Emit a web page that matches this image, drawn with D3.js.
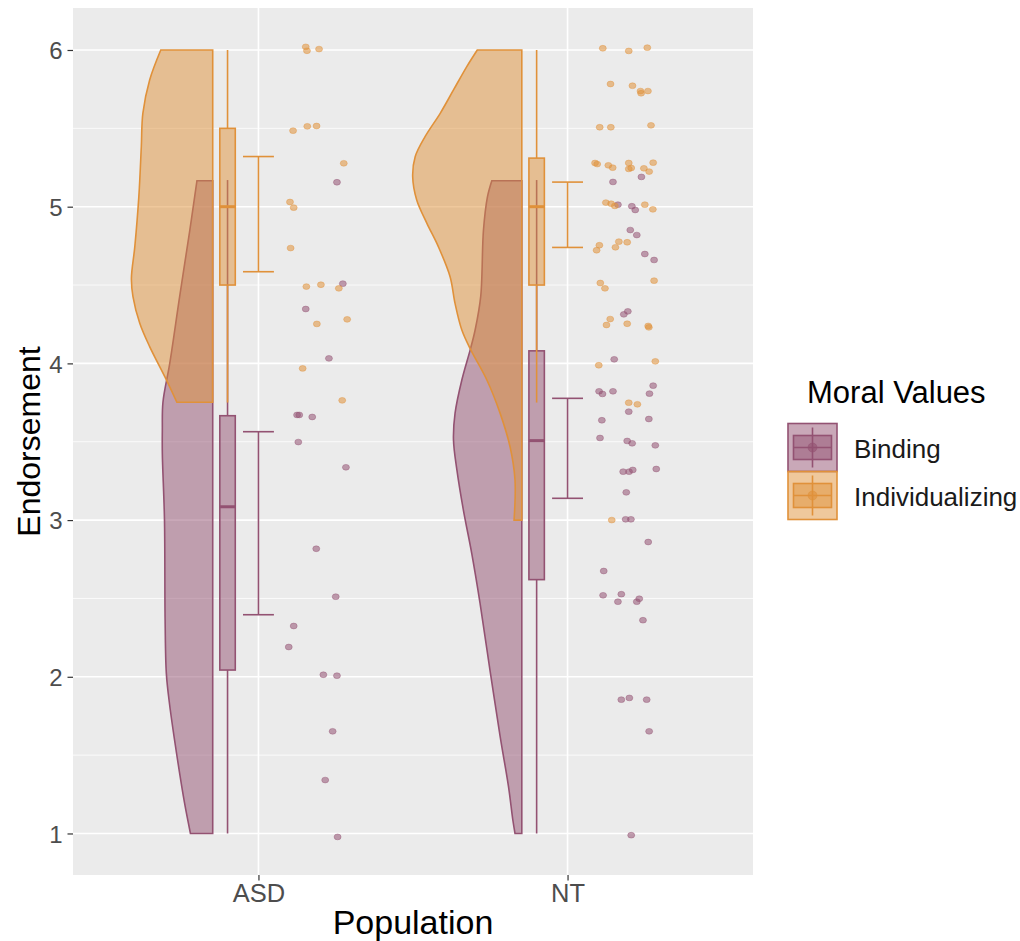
<!DOCTYPE html>
<head>
    <meta charset="utf-8">
    <title>Raincloud - Moral Values</title>
    <style>
        body { margin: 0; background: #fff; }
        text { font-family: "Liberation Sans", Arial, sans-serif; }
    </style>
</head>
<body>

<svg width="1020" height="941"></svg>

<script src="https://d3js.org/d3.v7.min.js"></script>

<script>

    // ---- data ----
    const populations = ["ASD", "NT"];
    const moralValues = ["Binding", "Individualizing"];
    const yTicks = [1, 2, 3, 4, 5, 6];

    // boxplot stats per population: [lower whisker, q1, median, q3, upper whisker]
    const bindingBox = [[1.0, 2.043, 3.085, 3.666, 5.17], [1.0, 2.62, 3.507, 4.08, 5.17]];
    const individualizingBox = [[3.75, 4.5, 5.0, 5.5, 6.0], [3.75, 4.5, 5.0, 5.31, 6.0]];

    // error bars per population: [low, high]
    const bindingErr = [[2.396, 3.564], [3.139, 3.777]];
    const individualizingErr = [[4.585, 5.32], [4.74, 5.157]];

    // half violin outlines: [endorsement, half width]
    const asdBindingDensity = [[5.166, 0.051], [4.851, 0.074], [4.426, 0.107], [4.0, 0.139], [3.752, 0.161],
        [3.575, 0.163], [3.426, 0.163], [3.0, 0.156], [2.362, 0.154], [2.022, 0.150], [1.831, 0.140],
        [1.512, 0.117], [1.193, 0.091], [1.0, 0.072]];
    const asdIndividualizingDensity = [[6.0, 0.168], [5.809, 0.204], [5.596, 0.226], [5.383, 0.231], [5.064, 0.239],
        [4.745, 0.252], [4.543, 0.263], [4.426, 0.258], [4.256, 0.236], [4.107, 0.204], [3.915, 0.155], [3.752, 0.116]];
    const ntBindingDensity = [[5.166, 0.097], [5.064, 0.111], [4.851, 0.124], [4.426, 0.133], [4.213, 0.151],
        [4.086, 0.167], [3.894, 0.194], [3.681, 0.216], [3.511, 0.221], [3.32, 0.210], [3.064, 0.189],
        [2.788, 0.162], [2.469, 0.135], [2.043, 0.103], [1.618, 0.070], [1.299, 0.043], [1.086, 0.029], [1.0, 0.022]];
    const ntIndividualizingDensity = [[6.0, 0.144], [5.894, 0.178], [5.745, 0.221], [5.596, 0.264], [5.447, 0.313],
        [5.319, 0.345], [5.191, 0.353], [5.043, 0.340], [4.894, 0.307], [4.745, 0.270], [4.553, 0.232],
        [4.383, 0.216], [4.213, 0.194], [4.086, 0.165], [3.894, 0.113], [3.681, 0.070], [3.468, 0.038],
        [3.256, 0.022], [3.0, 0.025]];

    // raw points: [endorsement, horizontal jitter from the population]
    const asdBindingPoints = [[5.156, 0.254], [4.509, 0.273], [4.347, 0.153], [4.032, 0.228], [3.671, 0.125],
        [3.671, 0.132], [3.658, 0.174], [3.498, 0.129], [3.337, 0.283], [2.817, 0.187], [2.511, 0.250],
        [2.324, 0.114], [2.19, 0.098], [2.013, 0.210], [2.007, 0.254], [1.652, 0.240], [1.341, 0.216], [0.978, 0.256]];
    const asdIndividualizingPoints = [[6.02, 0.153], [5.995, 0.157], [6.006, 0.196], [5.485, 0.112], [5.513, 0.158],
        [5.515, 0.188], [5.277, 0.276], [5.03, 0.102], [4.994, 0.114], [4.736, 0.104], [4.49, 0.155], [4.502, 0.202],
        [4.479, 0.260], [4.252, 0.189], [4.281, 0.287], [3.968, 0.143], [3.764, 0.271]];
    const ntBindingPoints = [[5.158, 0.147], [5.19, 0.239], [5.013, 0.163], [5.003, 0.208], [4.979, 0.219],
        [4.851, 0.203], [4.819, 0.224], [4.698, 0.250], [4.66, 0.280], [4.313, 0.182], [4.332, 0.195],
        [4.026, 0.151], [3.822, 0.102], [3.805, 0.113], [3.822, 0.147], [3.858, 0.277], [3.807, 0.265],
        [3.692, 0.198], [3.637, 0.111], [3.645, 0.263], [3.524, 0.105], [3.505, 0.193], [3.49, 0.209],
        [3.477, 0.284], [3.309, 0.180], [3.309, 0.199], [3.32, 0.211], [3.326, 0.287], [3.177, 0.190],
        [3.005, 0.188], [3.005, 0.205], [2.86, 0.261], [2.675, 0.117], [2.52, 0.115], [2.527, 0.174],
        [2.479, 0.163], [2.479, 0.224], [2.498, 0.232], [2.361, 0.244], [1.854, 0.174], [1.865, 0.200],
        [1.854, 0.256], [1.652, 0.264], [0.989, 0.206]];
    const ntIndividualizingPoints = [[6.011, 0.114], [5.994, 0.198], [6.015, 0.258], [5.783, 0.139], [5.772, 0.210],
        [5.738, 0.236], [5.724, 0.238], [5.738, 0.260], [5.507, 0.104], [5.507, 0.140], [5.519, 0.270],
        [5.279, 0.089], [5.272, 0.096], [5.264, 0.132], [5.249, 0.146], [5.279, 0.198], [5.241, 0.198],
        [5.247, 0.206], [5.245, 0.247], [5.281, 0.277], [5.224, 0.264], [5.026, 0.124], [5.019, 0.141],
        [5.005, 0.153], [5.013, 0.250], [4.983, 0.276], [4.754, 0.103], [4.722, 0.094], [4.777, 0.166],
        [4.741, 0.155], [4.773, 0.193], [4.528, 0.280], [4.513, 0.106], [4.479, 0.121], [4.283, 0.138],
        [4.245, 0.126], [4.253, 0.193], [4.239, 0.261], [4.23, 0.263], [3.988, 0.101], [4.013, 0.284],
        [3.749, 0.198], [3.739, 0.226], [3.0, 0.143]];

    const colors = { Binding: "#935272", Individualizing: "#e0913a" };

    // ---- layout ----
    const svg = d3.select("svg");
    const panel = { left: 73, right: 753, top: 8, bottom: 875 };

    const x = d3.scaleLinear().domain([0.4, 2.6]).range([panel.left, panel.right]);
    const y = d3.scaleLinear().domain([0.735, 6.268]).range([panel.bottom, panel.top]);
    const pos = function(pop) { return populations.indexOf(pop) + 1; };

    const violinEdge = -0.148, boxShift = -0.1, boxHalf = 0.025, errHalf = 0.05;
    const lw = 1.6;

    // panel background + grid
    svg.append("rect")
        .attr("x", panel.left).attr("y", panel.top)
        .attr("width", panel.right - panel.left).attr("height", panel.bottom - panel.top)
        .attr("fill", "#ebebeb");

    const minor = d3.range(1.5, 6, 1);
    svg.append("g").selectAll("line").data(minor).enter().append("line")
        .attr("x1", panel.left).attr("x2", panel.right)
        .attr("y1", d => y(d)).attr("y2", d => y(d))
        .attr("stroke", "#fff").attr("stroke-width", 0.8);
    svg.append("g").selectAll("line").data(yTicks).enter().append("line")
        .attr("x1", panel.left).attr("x2", panel.right)
        .attr("y1", d => y(d)).attr("y2", d => y(d))
        .attr("stroke", "#fff").attr("stroke-width", 1.6);
    svg.append("g").selectAll("line").data(populations).enter().append("line")
        .attr("x1", d => x(pos(d))).attr("x2", d => x(pos(d)))
        .attr("y1", panel.top).attr("y2", panel.bottom)
        .attr("stroke", "#fff").attr("stroke-width", 1.6);

    const groups = [
        { pop: "ASD", mv: "Binding", dens: asdBindingDensity, pts: asdBindingPoints, box: bindingBox[0], err: bindingErr[0] },
        { pop: "ASD", mv: "Individualizing", dens: asdIndividualizingDensity, pts: asdIndividualizingPoints, box: individualizingBox[0], err: individualizingErr[0] },
        { pop: "NT", mv: "Binding", dens: ntBindingDensity, pts: ntBindingPoints, box: bindingBox[1], err: bindingErr[1] },
        { pop: "NT", mv: "Individualizing", dens: ntIndividualizingDensity, pts: ntIndividualizingPoints, box: individualizingBox[1], err: individualizingErr[1] }
    ];

    // ---- half violins ----
    const shapeLine = d3.line().curve(d3.curveCatmullRom.alpha(0.5));
    svg.append("g").selectAll("path").data(groups).enter().append("path")
        .attr("d", function(g) {
            const p = pos(g.pop) + violinEdge;
            const top = g.dens[0][0], bottom = g.dens[g.dens.length - 1][0];
            const curve = shapeLine(g.dens.map(d => [x(p - d[1]), y(d[0])]));
            return "M" + x(p) + "," + y(top) + "L" + curve.slice(1) + "L" + x(p) + "," + y(bottom) + "Z";
        })
        .attr("fill", g => colors[g.mv]).attr("fill-opacity", 0.5)
        .attr("stroke", g => colors[g.mv]).attr("stroke-width", lw);

    // ---- jittered points ----
    groups.forEach(function(g) {
        svg.append("g").selectAll("ellipse").data(g.pts).enter().append("ellipse")
            .attr("cx", d => x(pos(g.pop) + d[1]))
            .attr("cy", d => y(d[0]))
            .attr("rx", 3.5).attr("ry", 2.9)
            .attr("fill", colors[g.mv]).attr("fill-opacity", 0.55)
            .attr("stroke", colors[g.mv]).attr("stroke-opacity", 0.4).attr("stroke-width", 1);
    });

    // ---- boxplots ----
    groups.forEach(function(g) {
        const c = pos(g.pop) + boxShift;
        const b = g.box;
        const gb = svg.append("g").attr("stroke", colors[g.mv]).attr("stroke-width", lw);
        gb.append("line").attr("x1", x(c)).attr("x2", x(c)).attr("y1", y(b[3])).attr("y2", y(b[4]));
        gb.append("line").attr("x1", x(c)).attr("x2", x(c)).attr("y1", y(b[1])).attr("y2", y(b[0]));
        gb.append("rect")
            .attr("x", x(c - boxHalf)).attr("width", x(c + boxHalf) - x(c - boxHalf))
            .attr("y", y(b[3])).attr("height", y(b[1]) - y(b[3]))
            .attr("fill", colors[g.mv]).attr("fill-opacity", 0.5);
        gb.append("line").attr("x1", x(c - boxHalf)).attr("x2", x(c + boxHalf))
            .attr("y1", y(b[2])).attr("y2", y(b[2])).attr("stroke-width", 3);
    });

    // ---- error bars ----
    groups.forEach(function(g) {
        const c = pos(g.pop);
        const ge = svg.append("g").attr("stroke", colors[g.mv]).attr("stroke-width", lw);
        ge.append("line").attr("x1", x(c)).attr("x2", x(c)).attr("y1", y(g.err[0])).attr("y2", y(g.err[1]));
        g.err.forEach(function(v) {
            ge.append("line").attr("x1", x(c - errHalf)).attr("x2", x(c + errHalf)).attr("y1", y(v)).attr("y2", y(v));
        });
    });

    // ---- axes ----
    const yAxis = svg.append("g").attr("transform", "translate(" + panel.left + ",0)")
        .call(d3.axisLeft(y).tickValues(yTicks).tickSize(5.5).tickPadding(5).tickFormat(d3.format("d")));
    const xAxis = svg.append("g").attr("transform", "translate(0," + panel.bottom + ")")
        .call(d3.axisBottom(d3.scaleOrdinal().domain(populations).range(populations.map(p => x(pos(p)))))
            .tickSize(5.5));
    [yAxis, xAxis].forEach(function(a) {
        a.select(".domain").remove();
        a.selectAll(".tick line").attr("stroke", "#333").attr("stroke-width", 1.2);
        a.selectAll(".tick text").attr("fill", "#4d4d4d").style("font-size", "24px")
            .style("font-family", "'Liberation Sans', Arial, sans-serif");
    });
    yAxis.selectAll(".tick text").attr("dy", "0.36em");
    xAxis.selectAll(".tick text").attr("y", 27).attr("dy", 0).style("font-size", "25.5px");

    svg.append("text")
        .attr("x", (panel.left + panel.right) / 2).attr("y", 934)
        .attr("text-anchor", "middle").style("font-size", "34px").attr("fill", "#000")
        .text("Population");
    svg.append("text")
        .attr("transform", "translate(40," + (panel.top + panel.bottom) / 2 + ") rotate(-90)")
        .attr("text-anchor", "middle").style("font-size", "32px").attr("fill", "#000")
        .text("Endorsement");

    // ---- legend ----
    const legend = svg.append("g");
    legend.append("text").attr("x", 807).attr("y", 403)
        .style("font-size", "31px").attr("fill", "#000").text("Moral Values");

    const key = legend.selectAll("g.key").data(moralValues).enter().append("g")
        .attr("class", "key")
        .attr("transform", (d, i) => "translate(788," + (423.5 + i * 48) + ")");
    key.append("rect").attr("width", 49).attr("height", 48)
        .attr("fill", d => colors[d]).attr("fill-opacity", 0.5)
        .attr("stroke", d => colors[d]).attr("stroke-width", lw);
    key.append("line").attr("x1", 24.5).attr("x2", 24.5).attr("y1", 4).attr("y2", 44)
        .attr("stroke", d => colors[d]).attr("stroke-width", lw);
    key.append("rect").attr("x", 5.5).attr("y", 12).attr("width", 38).attr("height", 24)
        .attr("fill", d => colors[d]).attr("fill-opacity", 0.5)
        .attr("stroke", d => colors[d]).attr("stroke-width", lw);
    key.append("line").attr("x1", 5.5).attr("x2", 43.5).attr("y1", 24).attr("y2", 24)
        .attr("stroke", d => colors[d]).attr("stroke-width", lw);
    key.append("circle").attr("cx", 24.5).attr("cy", 24).attr("r", 4.5)
        .attr("fill", d => colors[d]).attr("fill-opacity", 0.6)
        .attr("stroke", d => colors[d]).attr("stroke-opacity", 0.5);
    key.append("text").attr("x", 66).attr("y", 34)
        .style("font-size", "26px").attr("fill", "#1a1a1a").text(d => d);

</script>

</body>
